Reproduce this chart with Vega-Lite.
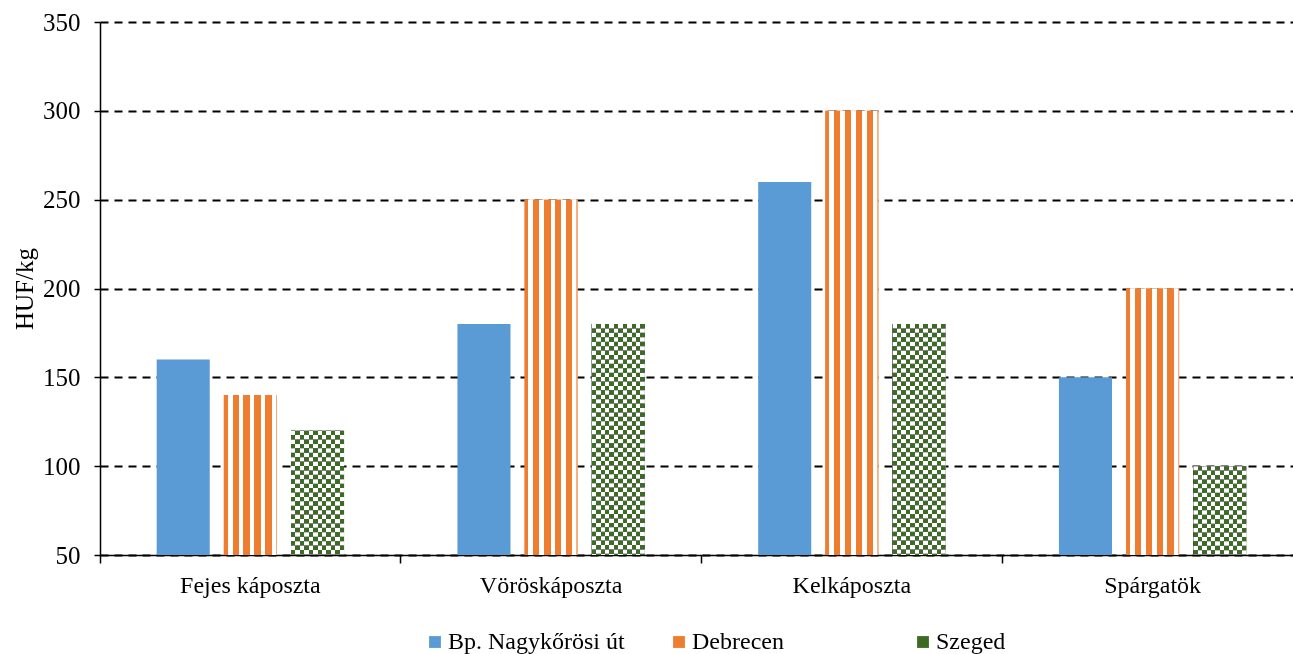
{
  "$schema": "https://vega.github.io/schema/vega-lite/v6.json",
  "autosize": "none",
  "padding": {"left": 100, "top": 22, "right": 0, "bottom": 99},
  "width": 1193,
  "height": 533,
  "background": "white",
  "config": {
    "font": "Liberation Serif",
    "view": {"stroke": null},
    "axis": {"labelFont": "Liberation Serif", "titleFont": "Liberation Serif", "labelColor": "black", "titleColor": "black"}
  },
  "data": {
    "values": [
      {"cat": "Fejes káposzta", "series": "Bp. Nagykőrösi út", "value": 160},
      {"cat": "Fejes káposzta", "series": "Debrecen", "value": 140},
      {"cat": "Fejes káposzta", "series": "Szeged", "value": 120},
      {"cat": "Vöröskáposzta", "series": "Bp. Nagykőrösi út", "value": 180},
      {"cat": "Vöröskáposzta", "series": "Debrecen", "value": 250},
      {"cat": "Vöröskáposzta", "series": "Szeged", "value": 180},
      {"cat": "Kelkáposzta", "series": "Bp. Nagykőrösi út", "value": 260},
      {"cat": "Kelkáposzta", "series": "Debrecen", "value": 300},
      {"cat": "Kelkáposzta", "series": "Szeged", "value": 180},
      {"cat": "Spárgatök", "series": "Bp. Nagykőrösi út", "value": 150},
      {"cat": "Spárgatök", "series": "Debrecen", "value": 200},
      {"cat": "Spárgatök", "series": "Szeged", "value": 100}
    ]
  },
  "encoding": {
    "x": {
      "field": "cat", "type": "nominal",
      "sort": ["Fejes káposzta", "Vöröskáposzta", "Kelkáposzta", "Spárgatök"],
      "scale": {"range": [0, 1203], "paddingInner": 0, "paddingOuter": 0},
      "axis": {
        "title": null, "labelAngle": 0, "labelFontSize": 24, "labelPadding": 10,
        "bandPosition": 0, "tickSize": 8, "tickColor": "black", "tickWidth": 1.5,
        "domainColor": "black", "domainWidth": 1.5, "grid": false
      }
    },
    "xOffset": {
      "field": "series", "type": "nominal",
      "sort": ["Bp. Nagykőrösi út", "Debrecen", "Szeged"],
      "scale": {"paddingInner": 0.21, "paddingOuter": 0.844}
    },
    "y": {
      "field": "value", "type": "quantitative",
      "scale": {"domain": [50, 350], "zero": false, "nice": false},
      "axis": {
        "title": "HUF/kg", "titleFontSize": 25, "titleFontWeight": "normal", "titlePadding": 5,
        "values": [50, 100, 150, 200, 250, 300, 350],
        "labelFontSize": 25, "labelPadding": 14, "tickSize": 6, "tickColor": "black", "tickWidth": 1.5,
        "domainColor": "black", "domainWidth": 1.5,
        "grid": true, "gridColor": "black", "gridDash": [8, 6], "gridWidth": 1.8, "gridOpacity": 1
      }
    },
    "y2": {"datum": 50}
  },
  "layer": [
    {
      "mark": {"type": "bar"},
      "encoding": {
        "color": {
          "field": "series", "type": "nominal",
          "scale": {"domain": ["Bp. Nagykőrösi út", "Debrecen", "Szeged"], "range": ["#5B9BD5", "#ED7D31", "#3E6B23"]},
          "legend": {
            "title": null, "orient": "none", "direction": "horizontal", "legendX": 323, "legendY": 608,
            "symbolType": "square", "symbolSize": 140, "symbolStrokeWidth": 0, "labelFontSize": 24,
            "labelFont": "Liberation Serif", "labelColor": "black", "labelLimit": 400, "gridAlign": "all", "columnPadding": 42,
            "labelOffset": 1, "padding": 0
          }
        }
      }
    },
    {
      "transform": [{"filter": "datum.series === 'Debrecen'"}],
      "mark": {
        "type": "bar",
        "fill": {
          "gradient": "linear", "x1": 0, "y1": 0, "x2": 1, "y2": 0,
          "stops": [
            {"offset": 0, "color": "#ED7D31"}, {"offset": 0.07, "color": "#ED7D31"},
            {"offset": 0.07, "color": "#FFFFFF"}, {"offset": 0.165, "color": "#FFFFFF"},
            {"offset": 0.165, "color": "#ED7D31"}, {"offset": 0.28, "color": "#ED7D31"},
            {"offset": 0.28, "color": "#FFFFFF"}, {"offset": 0.37, "color": "#FFFFFF"},
            {"offset": 0.37, "color": "#ED7D31"}, {"offset": 0.49, "color": "#ED7D31"},
            {"offset": 0.49, "color": "#FFFFFF"}, {"offset": 0.575, "color": "#FFFFFF"},
            {"offset": 0.575, "color": "#ED7D31"}, {"offset": 0.695, "color": "#ED7D31"},
            {"offset": 0.695, "color": "#FFFFFF"}, {"offset": 0.78, "color": "#FFFFFF"},
            {"offset": 0.78, "color": "#ED7D31"}, {"offset": 0.9, "color": "#ED7D31"},
            {"offset": 0.9, "color": "#FFFFFF"}, {"offset": 0.975, "color": "#FFFFFF"},
            {"offset": 0.975, "color": "#F4B183"}, {"offset": 1, "color": "#F4B183"}
          ]
        }
      }
    },
    {
      "transform": [{"filter": "datum.series === 'Szeged'"}],
      "mark": {
        "type": "bar",
        "fill": {
          "gradient": "linear", "x1": 0, "y1": 0, "x2": 1, "y2": 0,
          "stops": [
            {"offset": 0, "color": "#000000"}, {"offset": 0.0833, "color": "#000000"},
            {"offset": 0.0833, "color": "#FFFFFF"}, {"offset": 0.1667, "color": "#FFFFFF"},
            {"offset": 0.1667, "color": "#000000"}, {"offset": 0.25, "color": "#000000"},
            {"offset": 0.25, "color": "#FFFFFF"}, {"offset": 0.3333, "color": "#FFFFFF"},
            {"offset": 0.3333, "color": "#000000"}, {"offset": 0.4167, "color": "#000000"},
            {"offset": 0.4167, "color": "#FFFFFF"}, {"offset": 0.5, "color": "#FFFFFF"},
            {"offset": 0.5, "color": "#000000"}, {"offset": 0.5833, "color": "#000000"},
            {"offset": 0.5833, "color": "#FFFFFF"}, {"offset": 0.6667, "color": "#FFFFFF"},
            {"offset": 0.6667, "color": "#000000"}, {"offset": 0.75, "color": "#000000"},
            {"offset": 0.75, "color": "#FFFFFF"}, {"offset": 0.8333, "color": "#FFFFFF"},
            {"offset": 0.8333, "color": "#000000"}, {"offset": 0.9167, "color": "#000000"},
            {"offset": 0.9167, "color": "#FFFFFF"}, {"offset": 1, "color": "#FFFFFF"}
          ]
        }
      }
    },
    {
      "transform": [{"filter": "datum.series === 'Szeged'"}],
      "mark": {"type": "rule", "stroke": "white", "strokeWidth": 53, "strokeCap": "butt", "strokeDash": [4.42, 4.42], "blend": "difference"}
    },
    {
      "transform": [{"filter": "datum.series === 'Szeged'"}],
      "mark": {"type": "bar", "fill": "#3E6B23", "blend": "lighten"}
    }
  ]
}
